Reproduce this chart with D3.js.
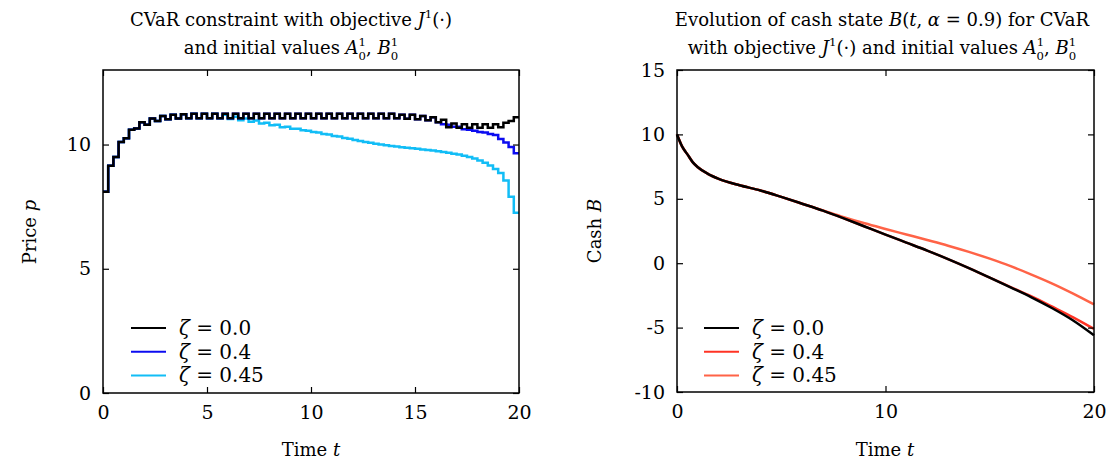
<!DOCTYPE html>
<html>
<head>
<meta charset="utf-8">
<script src="https://cdn.jsdelivr.net/npm/d3@7/dist/d3.min.js"></script>
<style>
	body { margin: 0; background: #ffffff; }
	text { font-family: "DejaVu Serif", serif; fill: #000000; }
</style>
</head>
<body>
<svg id="chart" width="1112" height="466"></svg>
<script>

// left panel: piecewise constant price, one value per step of length stepLen
var stepLen = 0.25;

var priceZeta0 = [
	8.1, 9.15, 9.5, 10.1, 10.25, 10.6, 10.65, 10.9, 10.8, 11.05,
	10.95, 11.15, 11.02, 11.2, 11.05, 11.22, 11.06, 11.24, 11.06, 11.24,
	11.06, 11.24, 11.06, 11.24, 11.06, 11.24, 11.06, 11.24, 11.06, 11.24,
	11.06, 11.24, 11.06, 11.24, 11.06, 11.24, 11.06, 11.24, 11.06, 11.24,
	11.06, 11.24, 11.06, 11.24, 11.06, 11.24, 11.06, 11.24, 11.06, 11.24,
	11.06, 11.24, 11.06, 11.24, 11.06, 11.24, 11.06, 11.2, 11.04, 11.2,
	11.02, 11.15, 10.98, 11.1, 10.9, 11.0, 10.7, 10.85, 10.68, 10.82,
	10.68, 10.82, 10.68, 10.82, 10.68, 10.82, 10.7, 10.88, 10.95, 11.1
];

var priceZeta04 = [
	8.1, 9.15, 9.5, 10.1, 10.25, 10.6, 10.65, 10.9, 10.8, 11.05,
	10.95, 11.15, 11.02, 11.2, 11.05, 11.22, 11.06, 11.24, 11.06, 11.24,
	11.06, 11.24, 11.06, 11.24, 11.06, 11.24, 11.06, 11.24, 11.06, 11.24,
	11.06, 11.24, 11.06, 11.24, 11.06, 11.24, 11.06, 11.24, 11.06, 11.24,
	11.06, 11.24, 11.06, 11.24, 11.06, 11.24, 11.06, 11.24, 11.06, 11.24,
	11.06, 11.24, 11.06, 11.24, 11.06, 11.24, 11.06, 11.2, 11.04, 11.2,
	11.02, 11.15, 10.98, 11.1, 10.9, 10.82, 10.8, 10.72, 10.72, 10.62,
	10.6, 10.55, 10.5, 10.48, 10.42, 10.38, 10.22, 10.08, 9.9, 9.65
];

var priceZeta045 = [
	8.1, 9.15, 9.5, 10.1, 10.25, 10.6, 10.65, 10.9, 10.8, 11.05,
	10.95, 11.15, 11.02, 11.2, 11.05, 11.22, 11.06, 11.24, 11.06, 11.24,
	11.06, 11.24, 11.06, 11.2, 11.03, 11.12, 10.98, 11.05, 10.92, 10.97,
	10.85, 10.88, 10.78, 10.8, 10.7, 10.72, 10.64, 10.64, 10.58, 10.56,
	10.5, 10.48, 10.42, 10.4, 10.34, 10.32, 10.26, 10.23, 10.18, 10.14,
	10.1, 10.07, 10.03, 10.0, 9.97, 9.94, 9.92, 9.89, 9.87, 9.85,
	9.83, 9.8, 9.78, 9.76, 9.73, 9.7, 9.67, 9.63, 9.6, 9.55,
	9.5, 9.44, 9.36, 9.27, 9.16, 9.02, 8.85, 8.55, 7.9, 7.25
];

// right panel: cash state
var cashTimes = [0, 0.25, 0.5, 0.75, 1, 1.5, 2, 3, 4, 5, 6, 7, 8, 9, 10, 11, 12, 13, 14, 15, 16, 17, 18, 19, 20];

var cashZeta0 = [10.0, 9.05, 8.45, 7.85, 7.45, 6.92, 6.55, 6.05, 5.65, 5.15, 4.62, 4.08, 3.48, 2.85, 2.22, 1.6, 0.98, 0.32, -0.38, -1.12, -1.88, -2.65, -3.5, -4.45, -5.6];
var cashZeta04 = [10.0, 9.05, 8.45, 7.85, 7.45, 6.92, 6.55, 6.05, 5.65, 5.15, 4.62, 4.08, 3.48, 2.85, 2.22, 1.6, 0.98, 0.32, -0.38, -1.12, -1.85, -2.58, -3.38, -4.2, -5.1];
var cashZeta045 = [10.0, 9.05, 8.45, 7.85, 7.45, 6.92, 6.55, 6.05, 5.65, 5.15, 4.62, 4.1, 3.58, 3.1, 2.66, 2.23, 1.8, 1.36, 0.88, 0.35, -0.23, -0.88, -1.58, -2.36, -3.2];

var zetaLabels = ["0.0", "0.4", "0.45"];
var priceColors = ["#000000", "#0c0cf0", "#12bdf6"];
var cashColors = ["#000000", "#ff3324", "#ff6347"];

var leftXTicks = [0, 5, 10, 15, 20];
var leftYTicks = [0, 5, 10];
var rightXTicks = [0, 10, 20];
var rightYTicks = [-10, -5, 0, 5, 10, 15];


var svg = d3.select("#chart");

var titleSize = 18;
var tickSize = 19;


// writes a run of pieces; sup/sub pieces are shifted, "back" stacks a sub under the previous sup
function mathText(g, x, y, pieces, anchor)
{
	var text = g.append("text")
		.attr("x", x)
		.attr("y", y)
		.attr("text-anchor", anchor || "middle")
		.style("font-size", titleSize + "px");

	var shift = 0;

	for (var i = 0; i < pieces.length; i++)
	{
		var p = pieces[i];
		var target = 0;
		if (p.sup) target = -0.46 * titleSize;
		if (p.sub) target = 0.34 * titleSize;

		var span = text.append("tspan")
			.attr("dy", target - shift)
			.text(p.t);

		if (p.it) span.style("font-style", "italic");
		if (p.sup || p.sub) span.style("font-size", (titleSize * 0.65) + "px");
		if (p.back) span.attr("dx", "-0.64em");

		shift = target;
	}
	return text;
}


function plainTick(d)
{
	return String(d);
}


function drawFrame(g, x, y, xTicks, yTicks)
{
	var x0 = x.range()[0], x1 = x.range()[1];
	var y0 = y.range()[0], y1 = y.range()[1];

	g.append("g")
		.attr("transform", "translate(0," + y0 + ")")
		.call(d3.axisBottom(x).tickValues(xTicks).tickSize(-6).tickPadding(13).tickFormat(plainTick))
		.call(function(a)
		{
			a.select(".domain").remove();
			a.selectAll("text").style("font-size", tickSize + "px");
			a.selectAll("line").attr("stroke-width", 1.2);
		});

	g.append("g")
		.attr("transform", "translate(0," + y1 + ")")
		.call(d3.axisTop(x).tickValues(xTicks).tickSize(-6).tickFormat(""))
		.call(function(a)
		{
			a.select(".domain").remove();
			a.selectAll("line").attr("stroke-width", 1.2);
		});

	g.append("g")
		.attr("transform", "translate(" + x0 + ",0)")
		.call(d3.axisLeft(y).tickValues(yTicks).tickSize(-6).tickPadding(12).tickFormat(plainTick))
		.call(function(a)
		{
			a.select(".domain").remove();
			a.selectAll("text").style("font-size", tickSize + "px");
			a.selectAll("line").attr("stroke-width", 1.2);
		});

	g.append("g")
		.attr("transform", "translate(" + x1 + ",0)")
		.call(d3.axisRight(y).tickValues(yTicks).tickSize(-6).tickFormat(""))
		.call(function(a)
		{
			a.select(".domain").remove();
			a.selectAll("line").attr("stroke-width", 1.2);
		});

	g.selectAll("g").attr("font-family", null).attr("font-size", null);

	g.append("rect")
		.attr("x", x0)
		.attr("y", y1)
		.attr("width", x1 - x0)
		.attr("height", y0 - y1)
		.attr("fill", "none")
		.attr("stroke", "#000000")
		.attr("stroke-width", 1.5);
}


function drawLegend(g, x, y, colors)
{
	for (var i = 0; i < zetaLabels.length; i++)
	{
		var ly = y + i * 23.7;

		g.append("line")
			.attr("x1", x)
			.attr("x2", x + 35)
			.attr("y1", ly)
			.attr("y2", ly)
			.attr("stroke", colors[i])
			.attr("stroke-width", 2);

		var t = g.append("text")
			.attr("x", x + 48)
			.attr("y", ly + 7)
			.style("font-size", "20px");
		t.append("tspan").style("font-style", "italic").text("ζ");
		t.append("tspan").text(" = " + zetaLabels[i]);
	}
}


// ---- left panel ----
var left = svg.append("g");

var xLeft = d3.scaleLinear().domain([0, 20]).range([103, 519]);
var yLeft = d3.scaleLinear().domain([0, 13]).range([393, 70]);

var priceSeries = [priceZeta0, priceZeta04, priceZeta045];

var stepLine = d3.line()
	.curve(d3.curveStepAfter)
	.x(function(d) { return xLeft(d.t); })
	.y(function(d) { return yLeft(d.v); });

for (var s = priceSeries.length - 1; s >= 0; s--)
{
	var vals = priceSeries[s];
	var pts = vals.map(function(v, k) { return {t: k * stepLen, v: v}; });
	pts.push({t: 20, v: vals[vals.length - 1]});

	left.append("path")
		.attr("d", stepLine(pts))
		.attr("fill", "none")
		.attr("stroke", priceColors[s])
		.attr("stroke-width", 2.5)
		.attr("stroke-linejoin", "miter");
}

drawFrame(left, xLeft, yLeft, leftXTicks, leftYTicks);
drawLegend(left, 131, 328, priceColors);

mathText(left, 291, 26, [
	{t: "CVaR constraint with objective "},
	{t: "J", it: true},
	{t: "1", sup: true},
	{t: "(·)"}
]);
mathText(left, 291, 54, [
	{t: "and initial values "},
	{t: "A", it: true},
	{t: "1", sup: true},
	{t: "0", sub: true, back: true},
	{t: ", "},
	{t: "B", it: true},
	{t: "1", sup: true},
	{t: "0", sub: true, back: true}
]);

mathText(left, 311, 456, [{t: "Time "}, {t: "t", it: true}]);

var py = left.append("g").attr("transform", "translate(36,232) rotate(-90)");
mathText(py, 0, 0, [{t: "Price "}, {t: "p", it: true}]);


// ---- right panel ----
var right = svg.append("g");

var xRight = d3.scaleLinear().domain([0, 20]).range([677, 1094]);
var yRight = d3.scaleLinear().domain([-10, 15]).range([392, 70]);

var cashSeries = [cashZeta0, cashZeta04, cashZeta045];

var smoothLine = d3.line()
	.curve(d3.curveMonotoneX)
	.x(function(d, i) { return xRight(cashTimes[i]); })
	.y(function(d) { return yRight(d); });

for (var s = cashSeries.length - 1; s >= 0; s--)
{
	right.append("path")
		.attr("d", smoothLine(cashSeries[s]))
		.attr("fill", "none")
		.attr("stroke", cashColors[s])
		.attr("stroke-width", 2.5);
}

drawFrame(right, xRight, yRight, rightXTicks, rightYTicks);
drawLegend(right, 704, 328, cashColors);

mathText(right, 882, 26, [
	{t: "Evolution of cash state "},
	{t: "B", it: true},
	{t: "("},
	{t: "t", it: true},
	{t: ", "},
	{t: "α", it: true},
	{t: " = 0.9) for CVaR"}
]);
mathText(right, 882, 54, [
	{t: "with objective "},
	{t: "J", it: true},
	{t: "1", sup: true},
	{t: "(·) and initial values "},
	{t: "A", it: true},
	{t: "1", sup: true},
	{t: "0", sub: true, back: true},
	{t: ", "},
	{t: "B", it: true},
	{t: "1", sup: true},
	{t: "0", sub: true, back: true}
]);

mathText(right, 885, 456, [{t: "Time "}, {t: "t", it: true}]);

var cy = right.append("g").attr("transform", "translate(601,231) rotate(-90)");
mathText(cy, 0, 0, [{t: "Cash "}, {t: "B", it: true}]);

</script>
</body>
</html>
